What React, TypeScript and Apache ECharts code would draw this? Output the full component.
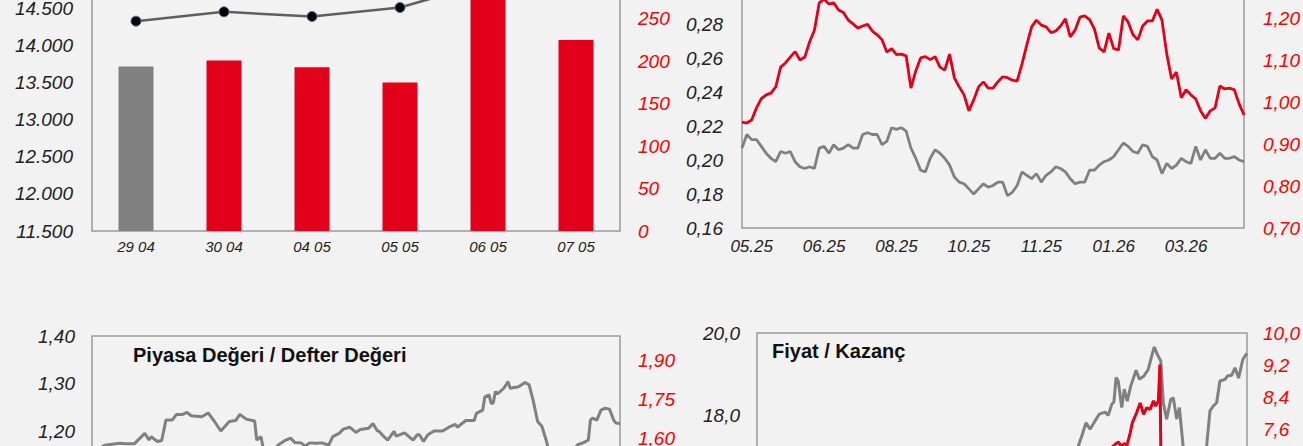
import React, { useEffect, useRef } from 'react';
import * as echarts from 'echarts';

// ---- Top-left: daily bars (right axis) + index line (left axis)
const barCategories = ['29 04', '30 04', '04 05', '05 05', '06 05', '07 05'];
const barValues = [194, 201, 193, 175, 290, 225];
const indexValues = [14326, 14452, 14389, 14510, 14850, 14780];

// ---- Top-right: two price-ratio lines over one year
const trTickLabels = ['05.25', '06.25', '08.25', '10.25', '11.25', '01.26', '03.26'];
const trRed = [
  0.952, 0.950, 0.957, 0.986, 1.008, 1.017, 1.021, 1.036, 1.083, 1.093,
  1.107, 1.120, 1.100, 1.107, 1.143, 1.171, 1.236, 1.245, 1.233, 1.236,
  1.219, 1.213, 1.195, 1.186, 1.176, 1.181, 1.185, 1.169, 1.160, 1.148,
  1.119, 1.127, 1.113, 1.114, 1.110, 1.033, 1.074, 1.105, 1.108, 1.101,
  1.108, 1.083, 1.076, 1.114, 1.057, 1.036, 1.017, 0.979, 1.005, 1.036,
  1.048, 1.033, 1.033, 1.048, 1.060, 1.058, 1.052, 1.050, 1.090, 1.136,
  1.179, 1.195, 1.183, 1.179, 1.165, 1.169, 1.181, 1.198, 1.155, 1.171,
  1.202, 1.205, 1.196, 1.174, 1.129, 1.119, 1.164, 1.127, 1.124, 1.205,
  1.190, 1.160, 1.148, 1.181, 1.193, 1.193, 1.221, 1.195, 1.114, 1.055,
  1.071, 1.010, 1.029, 1.017, 1.007, 0.979, 0.961, 0.979, 0.986, 1.038,
  1.031, 1.033, 1.029, 0.995, 0.969,
];
const trGray = [
  0.207, 0.215, 0.212, 0.212, 0.208, 0.204, 0.201, 0.199, 0.205, 0.204,
  0.205, 0.199, 0.196, 0.195, 0.196, 0.195, 0.207, 0.208, 0.204, 0.209,
  0.206, 0.207, 0.209, 0.207, 0.207, 0.215, 0.216, 0.215, 0.215, 0.209,
  0.211, 0.219, 0.218, 0.219, 0.217, 0.207, 0.201, 0.194, 0.193, 0.201,
  0.206, 0.204, 0.201, 0.197, 0.190, 0.187, 0.186, 0.183, 0.180, 0.183,
  0.186, 0.184, 0.185, 0.187, 0.187, 0.179, 0.181, 0.185, 0.193, 0.191,
  0.189, 0.192, 0.187, 0.191, 0.193, 0.196, 0.195, 0.193, 0.189, 0.186,
  0.187, 0.187, 0.194, 0.194, 0.197, 0.199, 0.200, 0.202, 0.206, 0.210,
  0.208, 0.205, 0.204, 0.209, 0.208, 0.202, 0.200, 0.192, 0.198, 0.195,
  0.197, 0.201, 0.199, 0.198, 0.208, 0.200, 0.206, 0.201, 0.201, 0.204,
  0.201, 0.201, 0.202, 0.200, 0.199,
];
const trTickStart = 2;
const trTickEvery = 15;

// ---- Bottom-left: Piyasa Değeri / Defter Değeri  [trading day, ratio]
const pbDays = [
  0, 6, 13, 16, 20, 25, 27, 28, 31, 33, 35, 38, 40, 43, 45, 47, 52, 55, 58, 61,
  65, 68, 70, 73, 77, 78, 80, 81, 84, 88, 91, 94, 96, 99, 101, 103, 106, 109, 112, 114,
  117, 119, 122, 125, 127, 131, 133, 135, 136, 138, 140, 143, 144, 148, 152, 154, 155, 157, 159, 162,
  166, 169, 172, 173, 177, 181, 182, 185, 186, 188, 189, 190, 191, 192, 195, 197, 198, 202, 205, 207,
  209, 211, 213, 215, 216, 222, 230, 233, 235, 236, 237, 239, 241, 243, 245, 247, 248, 250,
];
const pbValues = [
  1.155, 1.170, 1.174, 1.173, 1.173, 1.195, 1.181, 1.188, 1.178, 1.180, 1.223, 1.223, 1.235, 1.235, 1.239, 1.232, 1.230, 1.238, 1.220, 1.200,
  1.220, 1.222, 1.235, 1.225, 1.221, 1.181, 1.188, 1.165, 1.140, 1.170, 1.179, 1.185, 1.176, 1.175, 1.168, 1.175, 1.174, 1.175, 1.170, 1.188,
  1.195, 1.204, 1.208, 1.197, 1.203, 1.206, 1.216, 1.201, 1.199, 1.189, 1.181, 1.199, 1.189, 1.196, 1.181, 1.192, 1.192, 1.178, 1.192, 1.200,
  1.200, 1.208, 1.214, 1.208, 1.222, 1.222, 1.237, 1.244, 1.272, 1.276, 1.258, 1.259, 1.283, 1.278, 1.290, 1.304, 1.290, 1.293, 1.302, 1.297,
  1.262, 1.220, 1.210, 1.181, 1.165, 1.130, 1.171, 1.176, 1.181, 1.223, 1.227, 1.223, 1.244, 1.248, 1.246, 1.223, 1.217, 1.216,
];

// ---- Bottom-right: Fiyat / Kazanç  [trading day, ratio]
const peDays = [
  0, 30, 60, 90, 120, 150, 160, 163.9, 165.7, 167.9, 169.9, 172.4, 174.6, 177.6, 179.2, 181.0, 182.1, 183.2, 184.3, 186.1,
  187.4, 188.9, 190.7, 193.4, 195.1, 197.4, 199.6, 201.4, 202.7, 204.2, 206.0, 207.3, 209.0, 211.1, 212.4, 214.1, 215.5, 217.5, 223.5, 229.4,
  231.1, 232.8, 234.5, 236.2, 238.8, 240.0, 242.2, 243.9, 245.7, 247.9, 249.3, 250,
];
const peValues = [
  16.0, 15.6, 16.2, 15.8, 16.4, 16.6, 16.9, 17.24, 17.49, 17.81, 17.65, 17.85, 18.02, 18.07, 17.99, 18.26, 18.32, 18.91, 18.83, 18.18,
  18.63, 18.34, 18.71, 19.09, 18.87, 18.95, 19.11, 19.44, 19.66, 19.48, 19.32, 18.30, 17.90, 18.38, 18.42, 17.90, 18.18, 17.20, 16.50, 17.24,
  18.10, 18.22, 18.30, 18.83, 18.87, 18.95, 18.97, 19.15, 18.90, 19.36, 19.46, 19.50,
];
const peRedDays = [
  175, 183.5, 185.2, 186.6, 188.3, 189.4, 191.2, 192.3, 194.5, 196.3, 198.0, 199.7, 201.4, 203.1, 204.2, 205.6, 206.4, 207.3, 210, 230, 250,
];
const peRedValues = [
  6.90, 7.245, 7.30, 7.20, 7.27, 7.20, 7.53, 7.78, 8.03, 8.27, 7.99, 8.15, 8.11, 8.32, 8.19, 8.32, 9.22, 5.00, 5.20, 5.40, 5.60,
];

const pbTitle = 'Piyasa Değeri / Defter Değeri';
const peTitle = 'Fiyat / Kazanç';

const FONT = '"Liberation Sans", Arial, "DejaVu Sans", sans-serif';
const RED = '#e2001a';
const LABEL_RED = '#ff0000';
const GRAY = '#808080';
const FRAME = '#9a9a9a';

// The visible page is a window onto a taller chart canvas.
const OFF = 100;
const CANVAS_H = 900;

const inRange = (lo: number, hi: number, f: (v: number) => string) => (v: number) =>
  v >= lo - 1e-9 && v <= hi + 1e-9 ? f(v) : '';
const comma = (d: number) => (v: number) => v.toFixed(d).replace('.', ',');
const thousands = (v: number) => Math.round(v).toString().replace(/\B(?=(\d{3})+(?!\d))/g, '.');

export default function App() {
  const ref = useRef<HTMLDivElement>(null);
  useEffect(() => {
    if (!ref.current) return;
    document.body.style.margin = '0';
    document.body.style.overflow = 'hidden';
    const chart = echarts.init(ref.current, undefined, { renderer: 'svg' });

    const trCategories = trRed.map((_, i) =>
      i >= trTickStart && (i - trTickStart) % trTickEvery === 0
        ? trTickLabels[(i - trTickStart) / trTickEvery] || ''
        : ''
    );

    const frame = { show: true, borderColor: FRAME, borderWidth: 1.5, backgroundColor: 'transparent' };
    const hidden = { show: false, borderWidth: 0 };
    const yBase = (pos: string, color: string, fmt: any, margin: number) => ({
      type: 'value',
      position: pos,
      axisLine: { show: false },
      axisTick: { show: false },
      splitLine: { show: false },
      axisLabel: {
        color,
        fontStyle: 'italic',
        fontFamily: FONT,
        fontSize: 19,
        margin,
        formatter: fmt,
      },
    });

    const option: any = {
      animation: false,
      backgroundColor: '#f2f2f2',
      textStyle: { fontFamily: FONT },
      title: [
        {
          text: pbTitle,
          left: 133,
          top: 345 + OFF,
          padding: 0,
          textStyle: { fontFamily: FONT, fontWeight: 'bold', fontSize: 20, color: '#111' },
        },
        {
          text: peTitle,
          left: 772,
          top: 341 + OFF,
          padding: 0,
          textStyle: { fontFamily: FONT, fontWeight: 'bold', fontSize: 20, color: '#111' },
        },
      ],
      grid: [
        { left: 92, top: -66 + OFF, width: 528, height: 297, ...frame },
        { left: 742, top: -10 + OFF, width: 507, height: 238, ...frame },
        { left: 92, top: 336 + OFF, width: 528, height: 237.5, ...frame },
        { left: 92, top: 321 + OFF, width: 528, height: 234, ...hidden },
        { left: 757, top: 333 + OFF, width: 490, height: 328, ...frame },
        { left: 757, top: 333 + OFF, width: 490, height: 226.24, ...hidden },
      ],
      xAxis: [
        {
          gridIndex: 0,
          type: 'category',
          data: barCategories,
          axisLine: { show: false },
          axisTick: { show: false },
          axisLabel: { color: '#222', fontStyle: 'italic', fontFamily: FONT, fontSize: 15, margin: 8 },
        },
        {
          gridIndex: 1,
          type: 'category',
          boundaryGap: false,
          data: trCategories,
          axisLine: { show: false },
          axisTick: { show: false },
          axisLabel: {
            color: '#222',
            fontStyle: 'italic',
            fontFamily: FONT,
            fontSize: 17,
            margin: 10,
            interval: (i: number, v: string) => v !== '',
          },
        },
        { gridIndex: 2, type: 'value', min: 0, max: 250, show: false },
        { gridIndex: 3, type: 'value', min: 0, max: 250, show: false },
        { gridIndex: 4, type: 'value', min: 0, max: 250, show: false },
        { gridIndex: 5, type: 'value', min: 0, max: 250, show: false },
      ],
      yAxis: [
        { gridIndex: 0, ...yBase('left', '#222', inRange(11500, 14500, thousands), 19), min: 11500, max: 15500, interval: 500 },
        { gridIndex: 0, ...yBase('right', LABEL_RED, inRange(0, 250, (v) => String(Math.round(v))), 18), min: 0, max: 350, interval: 50 },
        { gridIndex: 1, ...yBase('left', '#222', inRange(0.16, 0.28, comma(2)), 19), min: 0.16, max: 0.30, interval: 0.02 },
        { gridIndex: 1, ...yBase('right', LABEL_RED, inRange(0.7, 1.2, comma(2)), 19), min: 0.7, max: 1.2667, interval: 0.1 },
        { gridIndex: 2, ...yBase('left', '#222', inRange(1.2, 1.4, comma(2)), 17), min: 0.9, max: 1.4, interval: 0.1 },
        { gridIndex: 3, ...yBase('right', LABEL_RED, inRange(1.6, 1.9, comma(2)), 18), min: 1.15, max: 2.05, interval: 0.15 },
        { gridIndex: 4, ...yBase('left', '#222', inRange(18, 20, comma(1)), 17), min: 12, max: 20, interval: 2 },
        { gridIndex: 5, ...yBase('right', LABEL_RED, inRange(7.6, 10, comma(1)), 18), min: 4.4, max: 10, interval: 0.8 },
      ],
      series: [
        {
          type: 'bar',
          xAxisIndex: 0,
          yAxisIndex: 1,
          data: barValues,
          barWidth: 35,
          itemStyle: { color: (p: any) => (p.dataIndex === 0 ? GRAY : RED) },
        },
        {
          type: 'line',
          xAxisIndex: 0,
          yAxisIndex: 0,
          data: indexValues,
          symbol: 'circle',
          symbolSize: 10,
          lineStyle: { color: '#5f5f5f', width: 2.5 },
          itemStyle: { color: '#000', borderColor: '#4a6fa5', borderWidth: 1 },
        },
        {
          type: 'line',
          xAxisIndex: 1,
          yAxisIndex: 2,
          data: trGray,
          symbol: 'none',
          lineStyle: { color: GRAY, width: 2.8 },
        },
        {
          type: 'line',
          xAxisIndex: 1,
          yAxisIndex: 3,
          data: trRed,
          symbol: 'none',
          lineStyle: { color: RED, width: 2.8 },
        },
        {
          type: 'line',
          xAxisIndex: 2,
          yAxisIndex: 4,
          data: pbDays.map((d, i) => [d, pbValues[i]]),
          symbol: 'none',
          lineStyle: { color: GRAY, width: 3 },
        },
        {
          type: 'line',
          xAxisIndex: 4,
          yAxisIndex: 6,
          data: peDays.map((d, i) => [d, peValues[i]]),
          symbol: 'none',
          lineStyle: { color: GRAY, width: 3 },
        },
        {
          type: 'line',
          xAxisIndex: 5,
          yAxisIndex: 7,
          data: peRedDays.map((d, i) => [d, peRedValues[i]]),
          symbol: 'none',
          lineStyle: { color: RED, width: 3 },
        },
      ],
    };

    chart.setOption(option);
    return () => chart.dispose();
  }, []);

  return (
    <div
      ref={ref}
      style={{ position: 'fixed', left: 0, top: -OFF, width: 1303, height: CANVAS_H }}
    />
  );
}
